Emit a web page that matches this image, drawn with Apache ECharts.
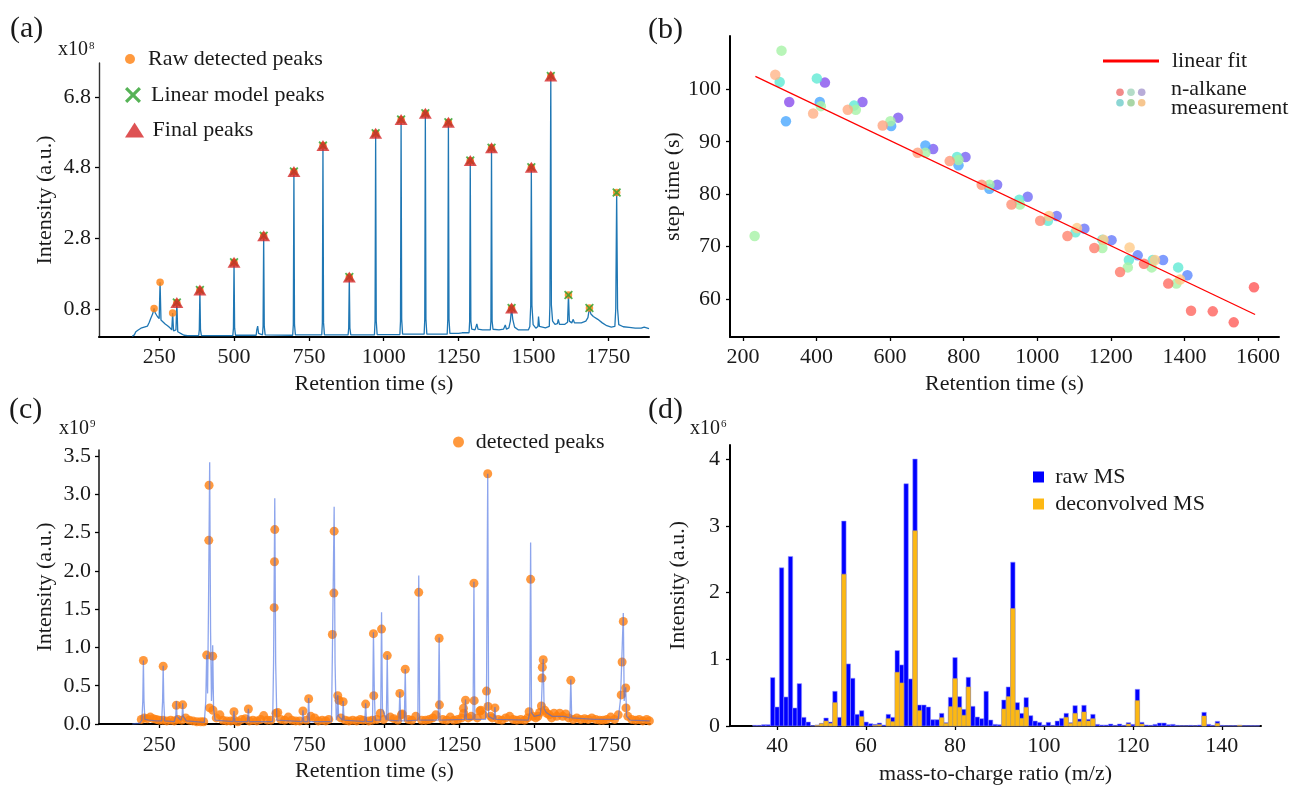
<!DOCTYPE html>
<html>
<head>
<meta charset="utf-8">
<script src="https://cdn.jsdelivr.net/npm/echarts@6.0.0/dist/echarts.min.js"></script>
<style>
html,body{margin:0;padding:0;background:#fff;}
#chart{width:1299px;height:785px;}
</style>
</head>
<body>
<div id="chart"></div>
<script>
// ---------- (a) chromatogram with peaks (x1e8) ----------
const traceA = [[160,0.02],[167,0.06],[172,0.15],[180,0.2],[189,0.25],[200,0.28],[211,0.31],[217,0.42],[222,0.53],[228,0.65],[233,0.81],[237,0.68],[244,0.58],[250,0.52],[253,1.55],[256,0.48],[261,0.43],[270,0.37],[278,0.32],[286,0.26],[292,0.2],[295,0.68],[298,0.17],[304,0.15],[306,0.2],[309,0.98],[312,0.15],[318,0.12],[326,0.08],[333,0.05],[345,0.04],[382,0.04],[384,0.2],[386,1.33],[388,0.2],[391,0.04],[496,0.04],[498,0.25],[500,2.12],[502,0.25],[505,0.05],[574,0.05],[576,0.2],[579,0.31],[582,0.1],[586,0.06],[595,0.06],[597,0.3],[599,2.87],[601,0.3],[604,0.06],[696,0.05],[698,0.35],[700,4.69],[702,0.35],[705,0.06],[793,0.06],[795,0.4],[797,5.42],[799,0.4],[802,0.06],[881,0.06],[883,0.25],[885,1.70],[887,0.25],[890,0.06],[969,0.06],[971,0.45],[973,5.77],[975,0.45],[978,0.07],[1054,0.07],[1056,0.45],[1058,6.16],[1060,0.5],[1063,0.08],[1135,0.08],[1137,0.5],[1139,6.34],[1141,0.5],[1144,0.08],[1212,0.08],[1214,0.5],[1216,6.08],[1218,0.5],[1221,0.1],[1250,0.1],[1262,0.12],[1285,0.12],[1287,0.45],[1289,5.0],[1291,0.45],[1294,0.22],[1305,0.2],[1311,0.37],[1315,0.22],[1330,0.2],[1356,0.2],[1358,0.45],[1360,5.36],[1362,0.45],[1365,0.22],[1385,0.2],[1400,0.22],[1406,0.34],[1410,0.22],[1418,0.26],[1423,0.45],[1427,0.82],[1431,0.5],[1437,0.28],[1450,0.2],[1483,0.2],[1488,0.3],[1491,0.9],[1493,4.81],[1495,0.9],[1499,0.35],[1508,0.25],[1515,0.3],[1517,0.58],[1520,0.3],[1540,0.26],[1553,0.3],[1555,0.9],[1558,7.39],[1560,0.9],[1564,0.45],[1572,0.36],[1580,0.38],[1583,0.5],[1587,0.36],[1605,0.36],[1614,0.42],[1617,1.19],[1620,0.45],[1628,0.4],[1633,0.5],[1637,0.4],[1660,0.4],[1675,0.45],[1682,0.55],[1687,0.82],[1692,0.65],[1700,0.58],[1715,0.5],[1730,0.4],[1745,0.32],[1760,0.28],[1772,0.3],[1775,0.8],[1778,4.09],[1781,0.8],[1785,0.35],[1800,0.29],[1820,0.27],[1840,0.25],[1860,0.25],[1870,0.28],[1886,0.24]];
const rawPeaksA = [[233,0.81],[253,1.55],[295,0.68],[309,0.98],[386,1.33],[500,2.12],[599,2.87],[700,4.69],[797,5.42],[885,1.70],[973,5.77],[1058,6.16],[1139,6.34],[1216,6.08],[1289,5.0],[1360,5.36],[1427,0.82],[1493,4.81],[1558,7.39],[1617,1.19],[1687,0.82],[1778,4.09]];
const linearPeaksA = [[309,0.98],[386,1.33],[500,2.12],[599,2.87],[700,4.69],[797,5.42],[885,1.70],[973,5.77],[1058,6.16],[1139,6.34],[1216,6.08],[1289,5.0],[1360,5.36],[1427,0.82],[1493,4.81],[1558,7.39],[1617,1.19],[1687,0.82],[1778,4.09]];
const finalPeaksA = [[309,0.98],[386,1.33],[500,2.12],[599,2.87],[700,4.69],[797,5.42],[885,1.70],[973,5.77],[1058,6.16],[1139,6.34],[1216,6.08],[1289,5.0],[1360,5.36],[1427,0.82],[1493,4.81],[1558,7.39]];
const ticksRT = [250,500,750,1000,1250,1500,1750];
const ticksA_y = [0.8,2.8,4.8,6.8];

// ---------- (b) step time vs retention time ----------
const purpleB = [[326,97.6],[423,101.3],[525,97.6],[622,94.6],[717,88.6],[805,87.1],[891,81.8],[974,79.5],[1053,75.8],[1128,73.4],[1202,71.2],[1273,68.3],[1342,67.4],[1408,64.5]];
const blueB = [[317,93.9],[409,97.6],[603,93.0],[696,89.3],[786,85.5],[870,81.0]];
const cyanB = [[300,101.4],[401,102.1],[502,96.9],[782,87.1],[951,78.9],[1029,74.9],[1104,72.7],[1177,71.3],[1249,67.4],[1314,67.4],[1383,66.0]];
const greenB = [[232,72.0],[305,107.4],[412,96.8],[507,96.1],[601,93.9],[696,87.9],[786,86.5],[870,81.8],[953,78.0],[1177,69.7],[1246,66.0],[1311,66.0],[1378,62.9]];
const orangeB = [[1032,75.8],[1108,73.5],[1180,71.3],[1251,69.8],[1320,67.4],[1388,63.7]];
const salmonB = [[288,102.8],[391,95.4],[485,96.1],[580,93.1],[675,87.9],[762,86.3],[849,81.8],[930,78.0],[1008,74.9],[1082,72.0],[1155,69.7],[1225,65.1],[1290,66.7],[1356,62.9],[1418,57.7],[1477,57.6],[1534,55.5],[1589,62.2]];
const fitB = [[234,102.5],[1592,57.0]];
const ticksB_x = [200,400,600,800,1000,1200,1400,1600];
const ticksB_y = [60,70,80,90,100];

// ---------- (c) chromatogram with detected peaks (x1e9) ----------
const traceC = [[160,0.0],[185,0.01],[192,0.05],[195,0.3],[197,0.83],[199,0.3],[202,0.06],[215,0.05],[240,0.04],[258,0.04],[261,0.3],[263,0.76],[265,0.3],[268,0.04],[300,0.03],[305,0.1],[307,0.3],[309,0.1],[322,0.05],[326,0.1],[328,0.27],[330,0.1],[340,0.04],[400,0.02],[405,0.3],[408,0.9],[411,0.4],[414,1.5],[418,3.42],[421,1.2],[424,0.3],[426,0.5],[428,1.03],[431,0.2],[436,0.05],[496,0.03],[499,0.17],[502,0.03],[544,0.03],[547,0.2],[550,0.03],[628,0.03],[631,0.8],[635,2.95],[638,0.8],[642,0.05],[726,0.03],[729,0.18],[732,0.03],[745,0.03],[748,0.34],[751,0.03],[824,0.03],[827,0.9],[833,2.84],[836,0.8],[840,0.05],[843,0.1],[845,0.38],[848,0.1],[861,0.05],[863,0.3],[866,0.05],[935,0.03],[938,0.27],[941,0.03],[961,0.03],[964,1.2],[967,0.4],[970,0.05],[988,0.05],[991,1.46],[994,0.2],[1007,0.05],[1010,0.9],[1013,0.05],[1049,0.04],[1052,0.42],[1055,0.04],[1067,0.04],[1070,0.72],[1073,0.04],[1112,0.05],[1115,1.94],[1118,0.05],[1180,0.05],[1183,1.13],[1186,0.05],[1268,0.06],[1271,0.32],[1274,0.06],[1296,0.06],[1299,1.86],[1302,0.06],[1338,0.06],[1341,0.44],[1345,3.27],[1348,0.1],[1366,0.06],[1369,0.22],[1372,0.06],[1480,0.05],[1485,0.15],[1488,2.37],[1491,0.15],[1500,0.1],[1520,0.12],[1524,0.25],[1527,0.6],[1530,0.85],[1533,0.2],[1540,0.15],[1560,0.1],[1600,0.1],[1619,0.08],[1622,0.58],[1625,0.08],[1700,0.06],[1780,0.06],[1787,0.3],[1790,0.6],[1797,1.45],[1800,0.3],[1805,0.48],[1808,0.1],[1820,0.05],[1885,0.04]];
const peaksC = [[197,0.83],[263,0.755],[307,0.245],[328,0.25],[408,0.90],[415,2.40],[416,3.12],[418,0.21],[428,0.886],[429,0.18],[499,0.16],[547,0.196],[633,1.52],[634,2.12],[635,2.54],[639,0.14],[729,0.17],[748,0.33],[827,1.17],[832,1.71],[833,2.52],[845,0.37],[849,0.31],[863,0.29],[938,0.26],[964,1.18],[965,0.37],[987,0.14],[991,1.24],[1010,0.894],[1052,0.40],[1057,0.12],[1070,0.716],[1115,1.72],[1183,1.12],[1184,0.25],[1264,0.205],[1265,0.14],[1271,0.31],[1299,1.84],[1300,0.305],[1319,0.17],[1341,0.43],[1345,3.27],[1346,0.23],[1369,0.21],[1483,0.16],[1488,1.89],[1524,0.235],[1526,0.60],[1527,0.74],[1530,0.84],[1622,0.57],[1790,0.38],[1793,0.81],[1797,1.34],[1805,0.47],[1806,0.21]];
const baseDotsC = [[190,0.06],[200,0.08],[210,0.07],[220,0.09],[230,0.07],[240,0.06],[250,0.05],[262,0.05],[275,0.04],[288,0.05],[300,0.04],[312,0.06],[325,0.05],[338,0.08],[350,0.05],[362,0.04],[375,0.03],[388,0.03],[398,0.03],[440,0.08],[452,0.12],[462,0.05],[475,0.04],[488,0.04],[500,0.05],[512,0.03],[525,0.06],[537,0.07],[550,0.04],[562,0.05],[575,0.04],[588,0.06],[598,0.11],[610,0.05],[622,0.05],[645,0.15],[655,0.06],[668,0.05],[680,0.09],[692,0.05],[705,0.04],[718,0.04],[740,0.05],[755,0.1],[768,0.08],[780,0.04],[793,0.05],[805,0.04],[815,0.06],[855,0.08],[870,0.05],[882,0.04],[895,0.05],[908,0.04],[920,0.06],[930,0.05],[948,0.04],[960,0.05],[975,0.06],[998,0.06],[1020,0.09],[1032,0.07],[1045,0.05],[1060,0.13],[1080,0.06],[1092,0.05],[1105,0.1],[1125,0.05],[1138,0.05],[1150,0.06],[1162,0.08],[1172,0.12],[1195,0.06],[1208,0.05],[1220,0.09],[1232,0.05],[1245,0.06],[1258,0.08],[1280,0.08],[1290,0.1],[1310,0.08],[1322,0.18],[1330,0.12],[1355,0.1],[1360,0.08],[1380,0.06],[1392,0.05],[1405,0.08],[1418,0.1],[1430,0.06],[1442,0.05],[1455,0.06],[1468,0.05],[1478,0.08],[1495,0.1],[1505,0.08],[1512,0.1],[1518,0.15],[1535,0.18],[1542,0.14],[1550,0.12],[1558,0.08],[1566,0.14],[1575,0.1],[1585,0.14],[1595,0.1],[1605,0.13],[1615,0.08],[1630,0.06],[1642,0.08],[1655,0.06],[1668,0.07],[1680,0.06],[1692,0.08],[1705,0.06],[1718,0.05],[1730,0.05],[1742,0.06],[1755,0.09],[1768,0.06],[1780,0.12],[1812,0.1],[1825,0.06],[1838,0.05],[1850,0.06],[1862,0.04],[1875,0.06],[1884,0.04]];
const ticksC_y = [0,0.5,1,1.5,2,2.5,3,3.5];

// ---------- (d) mass spectra (x1e6) ----------
const mzD = [35,36,37,38,39,40,41,42,43,44,45,46,47,48,49,50,51,52,53,54,55,56,57,58,59,60,61,62,63,64,65,66,67,68,69,70,71,72,73,74,75,76,77,78,79,80,81,82,83,84,85,86,87,88,89,90,91,92,93,94,95,96,97,98,99,100,101,102,103,104,105,106,107,108,109,110,111,112,113,114,115,116,117,118,119,120,121,122,123,124,125,126,127,128,129,130,131,132,133,134,135,136,137,138,139,140,141,142,143,144,145,146,147,148];
const rawD = [0.01,0.01,0.02,0.02,0.725,0.285,2.37,0.435,2.54,0.27,0.635,0.13,0.06,0.005,0.015,0.04,0.12,0.06,0.52,0.13,3.07,0.93,0.715,0.175,0.23,0.06,0.035,0.025,0.045,0.015,0.175,0.13,1.13,0.915,3.63,0.705,4.0,0.315,0.315,0.285,0.095,0.095,0.19,0.05,0.43,1.025,0.44,0.25,0.73,0.295,0.135,0.11,0.52,0.09,0.025,0.02,0.39,0.585,2.455,0.35,0.19,0.425,0.155,0.075,0.055,0.015,0.055,0.01,0.075,0.115,0.19,0.05,0.305,0.105,0.31,0.1,0.175,0.025,0.015,0.015,0.03,0.01,0.03,0.01,0.05,0.025,0.55,0.055,0.015,0.01,0.025,0.045,0.045,0.02,0.025,0.01,0.005,0.005,0.01,0.005,0.015,0.205,0.025,0.01,0.07,0.01,0.005,0.005,0.005,0.01,0.005,0.005,0.005,0.005];
const deconvD = [0,0,0,0,0,0,0,0,0,0,0,0,0,0,0.01,0.035,0.075,0.04,0.35,0,2.275,0,0,0,0.14,0,0,0.01,0.02,0,0.11,0.065,0.805,0.645,0,0,2.925,0.23,0,0,0,0,0.125,0.04,0.29,0.71,0.28,0.16,0.585,0,0,0,0,0,0,0,0.255,0.44,1.76,0.24,0.115,0.28,0,0,0,0,0,0,0,0,0.13,0.04,0.19,0.065,0.21,0.075,0.11,0,0,0,0,0,0,0,0.03,0,0.38,0.03,0,0,0,0,0,0,0,0,0,0,0,0,0,0.15,0,0,0.04,0,0,0,0,0.01,0,0,0,0];
const ticksD_x = [40,60,80,100,120,140];
const ticksD_y = [0,1,2,3,4];

// ---------- styling helpers ----------
const FONT = "'Liberation Serif', 'DejaVu Serif', serif";
const TXT = '#1a1a1a';
const XPATH = 'path://M1.4,0L5,3.6L8.6,0L10,1.4L6.4,5L10,8.6L8.6,10L5,6.4L1.4,10L0,8.6L3.6,5L0,1.4Z';
const TRI = 'path://M9.3,0L18.6,14.6L0,14.6Z';
const SQ = 'path://M0,0L10,0L10,10L0,10Z';

function valAxis(o) {
  return {
    type: 'value', gridIndex: o.grid, min: o.min, max: o.max,
    name: o.name, nameLocation: 'middle', nameGap: o.nameGap,
    nameTextStyle: {fontFamily: FONT, fontSize: 22, color: TXT},
    splitLine: {show: false},
    axisLine: {show: true, onZero: false, lineStyle: {color: o.lineColor || '#000', width: o.lineWidth || 2}},
    axisTick: {show: true, length: 4, lineStyle: {color: '#000', width: 1.3}, customValues: o.ticks},
    axisLabel: {fontFamily: FONT, fontSize: 22, color: TXT, margin: o.margin, customValues: o.ticks, formatter: o.fmt}
  };
}
const f1 = v => Number(v).toFixed(1);
const f0 = v => String(Math.round(v));

function hex(c){return [parseInt(c.slice(1,3),16),parseInt(c.slice(3,5),16),parseInt(c.slice(5,7),16)];}
function lerpC(a,b,t){const A=hex(a),B=hex(b);return 'rgb('+A.map((v,i)=>Math.round(v+(B[i]-v)*t)).join(',')+')';}
function gradScatter(name, data, c0, c1) {
  const n = data.length;
  return {type:'scatter', name:name, xAxisIndex:1, yAxisIndex:1, data:data, symbolSize:10.5, z:2,
    itemStyle:{opacity:0.8, color: p => lerpC(c0, c1, n>1 ? p.dataIndex/(n-1) : 0)}};
}
// one-unit wide histogram bar, positioned through the axis scale
function histBar(edge) {
  return function (params, api) {
    const m = api.value(0), v = api.value(1);
    const p0 = api.coord([m - 0.5, v]);
    const p1 = api.coord([m + 0.5, 0]);
    return {type:'rect', shape:{x:p0[0], y:p0[1], width:p1[0]-p0[0], height:p1[1]-p0[1]},
      style:{fill: api.visual('color'), stroke: edge, lineWidth: 0.6}};
  };
}
const LT = {fontFamily: FONT, fontSize: 22, color: TXT, lineHeight: 24};

const chart = echarts.init(document.getElementById('chart'), null, {renderer:'canvas'});
const option = {
  backgroundColor: '#ffffff',
  animation: false,
  grid: [
    {left: 99, top: 63, width: 550, height: 274, outerBoundsMode: 'none'},
    {left: 730, top: 36, width: 549, height: 301, outerBoundsMode: 'none'},
    {left: 99, top: 450, width: 551, height: 274, outerBoundsMode: 'none'},
    {left: 730, top: 445, width: 531, height: 281, outerBoundsMode: 'none'}
  ],
  xAxis: [
    valAxis({grid:0, min:49, max:1886, ticks:ticksRT, name:'Retention time (s)', nameGap:36, margin:9, fmt:f0, lineWidth:2.2}),
    valAxis({grid:1, min:165, max:1657, ticks:ticksB_x, name:'Retention time (s)', nameGap:36, margin:9, fmt:f0}),
    valAxis({grid:2, min:49, max:1886, ticks:ticksRT, name:'Retention time (s)', nameGap:36, margin:10, fmt:f0, lineWidth:2.2}),
    valAxis({grid:3, min:29.4, max:148.8, ticks:ticksD_x, name:'mass-to-charge ratio (m/z)', nameGap:37, margin:9, fmt:f0})
  ],
  yAxis: [
    valAxis({grid:0, min:0, max:7.76, ticks:ticksA_y, name:'Intensity (a.u.)', nameGap:43, margin:8, fmt:f1, lineColor:'#333', lineWidth:1.4}),
    valAxis({grid:1, min:52.7, max:110.2, ticks:ticksB_y, name:'step time (s)', nameGap:41, margin:9, fmt:f0}),
    valAxis({grid:2, min:0, max:3.58, ticks:ticksC_y, name:'Intensity (a.u.)', nameGap:43, margin:8, fmt:f1, lineColor:'#222', lineWidth:1.6}),
    valAxis({grid:3, min:0, max:4.21, ticks:ticksD_y, name:'Intensity (a.u.)', nameGap:41, margin:10, fmt:f0})
  ],
  legend: [
    {left:125, top:47, padding:0, itemWidth:26, itemHeight:10, selectedMode:false, textStyle:LT, data:[{name:'Raw detected peaks', icon:'circle'}]},
    {left:125, top:83, padding:0, itemWidth:26, itemHeight:16, selectedMode:false, textStyle:LT, data:[{name:'Linear model peaks', icon:XPATH}]},
    {left:125, top:118, padding:0, itemWidth:26, itemHeight:15, selectedMode:false, textStyle:LT, data:[{name:'Final peaks', icon:TRI}]},
    {left:1103, top:49, padding:0, itemWidth:56, itemHeight:3, selectedMode:false, textStyle:Object.assign({}, LT, {padding:[0,0,0,8]}), data:[{name:'linear fit', icon:'rect'}]},
    {left:453, top:430, padding:0, itemWidth:24.4, itemHeight:11, selectedMode:false, textStyle:LT, data:[{name:'detected peaks', icon:'circle'}]},
    {left:1033, top:465, padding:0, orient:'vertical', itemGap:3, itemWidth:23.4, itemHeight:11, selectedMode:false, textStyle:LT, data:[{name:'raw MS', icon:SQ},{name:'deconvolved MS', icon:SQ}]}
  ],
  series: [
    // (a)
    {type:'line', xAxisIndex:0, yAxisIndex:0, data:traceA, symbol:'none', lineStyle:{color:'#1f77b4', width:1.3}, itemStyle:{color:'#1f77b4'}, z:2, silent:true},
    {type:'scatter', name:'Raw detected peaks', xAxisIndex:0, yAxisIndex:0, data:rawPeaksA, symbol:'circle', symbolSize:7.5, itemStyle:{color:'#ff7f0e'}, z:3},
    {type:'scatter', name:'Linear model peaks', xAxisIndex:0, yAxisIndex:0, data:linearPeaksA, symbol:XPATH, symbolSize:9, itemStyle:{color:'#2ca02c'}, z:4},
    {type:'scatter', name:'Final peaks', xAxisIndex:0, yAxisIndex:0, data:finalPeaksA, symbol:'triangle', symbolSize:[13,11], itemStyle:{color:'#d62728'}, z:5},
    // (b)
    gradScatter('m_purple', purpleB, '#884cec', '#5c88ff'),
    gradScatter('m_blue', blueB, '#4aa7ff', '#4aa7ff'),
    gradScatter('m_cyan', cyanB, '#60ead5', '#60ead5'),
    gradScatter('m_green', greenB, '#a6f2a6', '#a6f2a6'),
    gradScatter('m_orange', orangeB, '#ffcb88', '#ffcb88'),
    gradScatter('m_salmon', salmonB, '#ffb588', '#ff5656'),
    {type:'line', name:'linear fit', xAxisIndex:1, yAxisIndex:1, data:fitB, symbol:'none', lineStyle:{color:'#ff0000', width:1.3}, itemStyle:{color:'#ff0000'}, z:4},
    // (c)
    {type:'scatter', name:'detected peaks', xAxisIndex:2, yAxisIndex:2, data:peaksC.concat(baseDotsC), symbol:'circle', symbolSize:9, itemStyle:{color:'#ff7f0e'}, z:2},
    {type:'line', xAxisIndex:2, yAxisIndex:2, data:traceC, symbol:'none', lineStyle:{color:'rgba(65,105,225,0.6)', width:1.3}, itemStyle:{color:'#4169e1'}, z:3, silent:true},
    // (d)
    {type:'custom', name:'raw MS', xAxisIndex:3, yAxisIndex:3, data:mzD.map((m,i)=>[m, rawD[i]]),
      encode:{x:0, y:1}, renderItem: histBar('rgba(150,150,255,0.9)'), itemStyle:{color:'#0000ff'}, z:2},
    {type:'custom', name:'deconvolved MS', xAxisIndex:3, yAxisIndex:3, data:mzD.map((m,i)=>[m, deconvD[i]]).filter(d => d[1] > 0),
      encode:{x:0, y:1}, renderItem: histBar('rgba(185,160,100,0.9)'), itemStyle:{color:'#fdb813'}, z:3}
  ],
  graphic: [
    {type:'text', left:10, top:14, style:{text:'(a)', font:'30px ' + FONT, fill:TXT}},
    {type:'text', left:648, top:15, style:{text:'(b)', font:'30px ' + FONT, fill:TXT}},
    {type:'text', left:9, top:395, style:{text:'(c)', font:'30px ' + FONT, fill:TXT}},
    {type:'text', left:648, top:395, style:{text:'(d)', font:'30px ' + FONT, fill:TXT}},
    {type:'text', left:58, top:40, style:{text:'x10', font:'20px ' + FONT, fill:TXT}},
    {type:'text', left:89, top:41, style:{text:'8', font:'11px ' + FONT, fill:TXT}},
    {type:'text', left:59, top:419, style:{text:'x10', font:'20px ' + FONT, fill:TXT}},
    {type:'text', left:90, top:419, style:{text:'9', font:'11px ' + FONT, fill:TXT}},
    {type:'text', left:690, top:419, style:{text:'x10', font:'20px ' + FONT, fill:TXT}},
    {type:'text', left:721, top:419, style:{text:'6', font:'11px ' + FONT, fill:TXT}},
    // n-alkane legend icon (six dots) and text
    {type:'circle', shape:{cx:1120, cy:92.3, r:3.8}, style:{fill:'#f28a8a'}},
    {type:'circle', shape:{cx:1131, cy:92.3, r:3.8}, style:{fill:'#b4dcc8'}},
    {type:'circle', shape:{cx:1141.7, cy:92.3, r:3.8}, style:{fill:'#b8acd8'}},
    {type:'circle', shape:{cx:1120, cy:102.7, r:3.8}, style:{fill:'#8cd6d4'}},
    {type:'circle', shape:{cx:1131, cy:102.7, r:3.8}, style:{fill:'#a9d6a6'}},
    {type:'circle', shape:{cx:1141.7, cy:102.7, r:3.8}, style:{fill:'#f6c690'}},
    {type:'text', left:1171, top:78, style:{text:'n-alkane', font:'22px ' + FONT, fill:TXT}},
    {type:'text', left:1171, top:97, style:{text:'measurement', font:'22px ' + FONT, fill:TXT}}
  ]
};
chart.setOption(option);
</script>
</body>
</html>
